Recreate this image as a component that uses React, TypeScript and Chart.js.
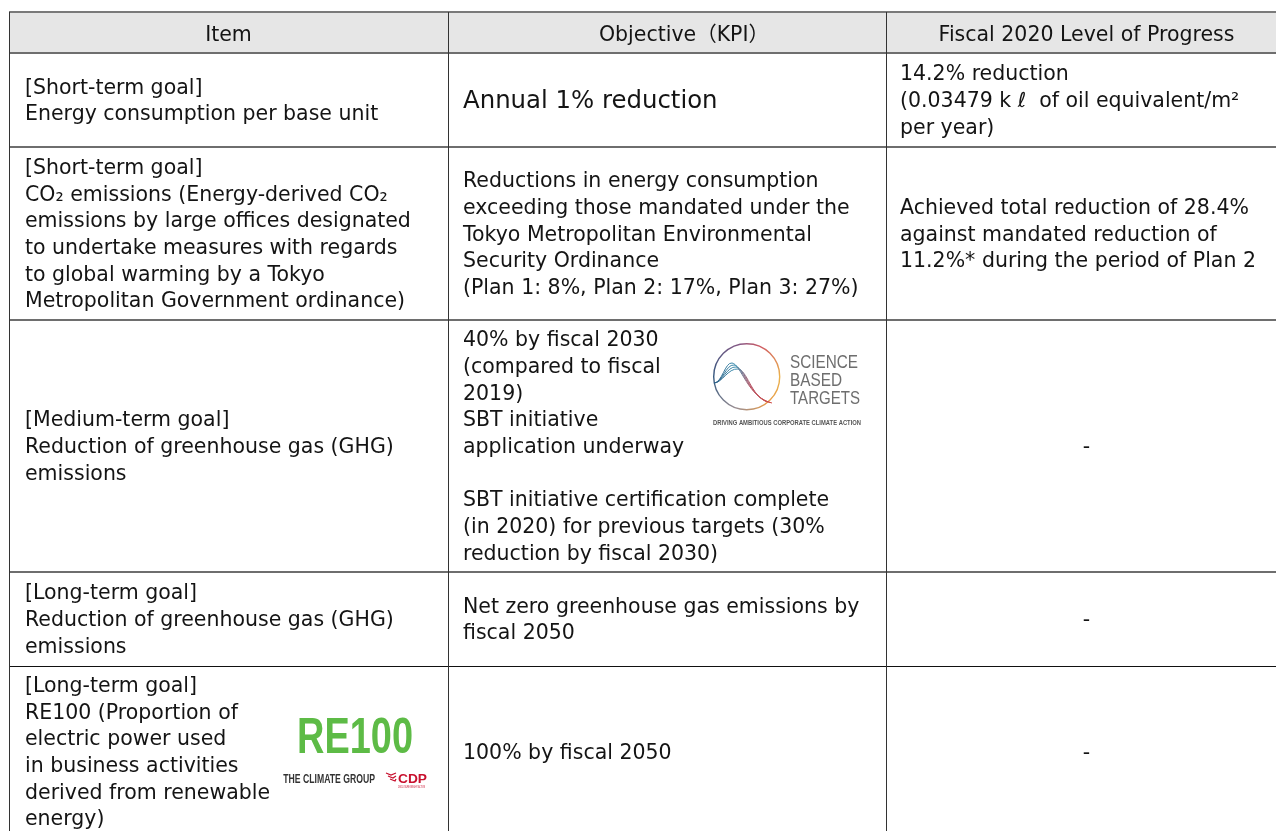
import React, { useEffect, useRef } from "react";
import { Chart, registerables } from "chart.js";

Chart.register(...registerables);

// ---------- DATA ----------
const headers: string[] = ["Item", "Objective（KPI）", "Fiscal 2020 Level of Progress"];

const items: string[][] = [
  ["[Short-term goal]", "Energy consumption per base unit"],
  [
    "[Short-term goal]",
    "CO₂ emissions (Energy-derived CO₂",
    "emissions by large offices designated",
    "to undertake measures with regards",
    "to global warming by a Tokyo",
    "Metropolitan Government ordinance)",
  ],
  ["[Medium-term goal]", "Reduction of greenhouse gas (GHG)", "emissions"],
  ["[Long-term goal]", "Reduction of greenhouse gas (GHG)", "emissions"],
  [
    "[Long-term goal]",
    "RE100 (Proportion of",
    "electric power used",
    "in business activities",
    "derived from renewable",
    "energy)",
  ],
];

const objectives: string[][] = [
  ["Annual 1% reduction"],
  [
    "Reductions in energy consumption",
    "exceeding those mandated under the",
    "Tokyo Metropolitan Environmental",
    "Security Ordinance",
    "(Plan 1: 8%, Plan 2: 17%, Plan 3: 27%)",
  ],
  [
    "40% by fiscal 2030",
    "(compared to fiscal",
    "2019)",
    "SBT initiative",
    "application underway",
    "",
    "SBT initiative certification complete",
    "(in 2020) for previous targets (30%",
    "reduction by fiscal 2030)",
  ],
  ["Net zero greenhouse gas emissions by", "fiscal 2050"],
  ["100% by fiscal 2050"],
];

const progress: string[][] = [
  ["14.2% reduction", "(0.03479 k ℓ  of oil equivalent/m²", "per year)"],
  [
    "Achieved total reduction of 28.4%",
    "against mandated reduction of",
    "11.2%* during the period of Plan 2",
  ],
  ["-"],
  ["-"],
  ["-"],
];

const sbtWords: string[] = ["SCIENCE", "BASED", "TARGETS"];
const sbtTagline = "DRIVING AMBITIOUS CORPORATE CLIMATE ACTION";
const re100Text = "RE100";
const climateGroupText = "THE CLIMATE GROUP";
const cdpText = "CDP";

// ---------- LAYOUT (in scale units == page pixels) ----------
const PAGE_W = 1276;
const PAGE_H = 831;
const COL_EDGES = [9, 448, 886, 1287];
const ROW_EDGES = [12, 53, 147, 320, 572, 666, 837];
const HEADER_CENTERS = [228.5, 684, 1086.5];
const TEXT_LEFT = [25, 463, 900];
const FONT = "'DejaVu Sans', 'Noto Sans CJK JP', sans-serif";
const FS = 20.5;
const LH = 26.7;
const BIG_FS = 24.4;
const TEXT_COLOR = "#141414";

function baselineOffset(fs: number, lh: number) {
  return (lh - fs * 1.164) / 2 + fs * 0.928;
}

const tablePlugin = {
  id: "tableDraw",
  afterDraw(chart: any) {
    const { ctx, scales } = chart;
    const X = (v: number) => scales.x.getPixelForValue(v);
    const Y = (v: number) => scales.y.getPixelForValue(v);

    ctx.save();
    // header background
    ctx.fillStyle = "#e6e6e6";
    ctx.fillRect(X(COL_EDGES[0]), Y(ROW_EDGES[0]), X(COL_EDGES[3]) - X(COL_EDGES[0]), Y(ROW_EDGES[1]) - Y(ROW_EDGES[0]));

    const drawBlock = (
      lines: string[],
      col: number,
      r0: number,
      r1: number,
      fs: number,
      lh: number,
      centered: boolean
    ) => {
      ctx.font = `${fs}px ${FONT}`;
      ctx.fillStyle = TEXT_COLOR;
      ctx.textBaseline = "alphabetic";
      const mid = (r0 + r1) / 2;
      const top = mid - (lines.length * lh) / 2;
      const off = baselineOffset(fs, lh);
      lines.forEach((ln, i) => {
        if (!ln) return;
        const yb = Y(top + i * lh + off);
        if (centered) {
          ctx.textAlign = "center";
          ctx.fillText(ln, X((COL_EDGES[col] + COL_EDGES[col + 1]) / 2), yb);
        } else {
          ctx.textAlign = "left";
          ctx.fillText(ln, X(TEXT_LEFT[col]), yb);
        }
      });
    };

    // header texts
    ctx.font = `${FS}px ${FONT}`;
    ctx.fillStyle = TEXT_COLOR;
    ctx.textAlign = "center";
    ctx.textBaseline = "alphabetic";
    const hOff = baselineOffset(FS, LH);
    headers.forEach((h, i) => {
      const mid = (ROW_EDGES[0] + ROW_EDGES[1]) / 2;
      ctx.fillText(h, X(HEADER_CENTERS[i]), Y(mid - LH / 2 + hOff + 1));
    });

    // body texts
    for (let r = 0; r < items.length; r++) {
      const r0 = ROW_EDGES[r + 1];
      const r1 = ROW_EDGES[r + 2];
      drawBlock(items[r], 0, r0, r1, FS, LH, false);
      if (r === 0) drawBlock(objectives[r], 1, r0, r1, BIG_FS, BIG_FS * 1.3, false);
      else drawBlock(objectives[r], 1, r0, r1, FS, LH, false);
      const centered = progress[r].length === 1 && progress[r][0] === "-";
      drawBlock(progress[r], 2, r0, r1, FS, LH, centered);
    }

    // grid lines
    const hLine = (y: number, color: string, w: number) => {
      ctx.strokeStyle = color;
      ctx.lineWidth = w;
      ctx.beginPath();
      const yy = w % 2 === 1 ? Math.round(Y(y)) + 0.5 : Math.round(Y(y));
      ctx.moveTo(X(COL_EDGES[0]), yy);
      ctx.lineTo(X(COL_EDGES[3]), yy);
      ctx.stroke();
    };
    const vLine = (x: number, color: string, w: number) => {
      ctx.strokeStyle = color;
      ctx.lineWidth = w;
      ctx.beginPath();
      const xx = Math.round(X(x)) + 0.5;
      ctx.moveTo(xx, Y(ROW_EDGES[0]));
      ctx.lineTo(xx, Y(ROW_EDGES[ROW_EDGES.length - 1]));
      ctx.stroke();
    };
    hLine(ROW_EDGES[0], "#7a7a7a", 2);
    hLine(ROW_EDGES[1], "#6e6e6e", 2);
    hLine(ROW_EDGES[2], "#6e6e6e", 2);
    hLine(ROW_EDGES[3], "#6e6e6e", 2);
    hLine(ROW_EDGES[4], "#6e6e6e", 2);
    hLine(ROW_EDGES[5], "#111111", 1);
    hLine(ROW_EDGES[6], "#333333", 1);
    vLine(COL_EDGES[0], "#333333", 1);
    vLine(COL_EDGES[1], "#333333", 1);
    vLine(COL_EDGES[2], "#333333", 1);
    vLine(COL_EDGES[3], "#333333", 1);

    // fitted text helper
    const fitText = (t: string, x0: number, x1: number, base: number, font: string, color: string) => {
      ctx.font = font;
      ctx.fillStyle = color;
      ctx.textAlign = "left";
      ctx.textBaseline = "alphabetic";
      const w = ctx.measureText(t).width;
      const target = X(x1) - X(x0);
      ctx.save();
      ctx.translate(X(x0), Y(base));
      ctx.scale(target / w, 1);
      ctx.fillText(t, 0, 0);
      ctx.restore();
    };

    // ---- SBT logo ----
    const cx = X(746.7), cy = Y(376.7), rr = 33;
    const cg = ctx.createConicGradient(Math.PI, cx, cy);
    cg.addColorStop(0, "#34587f");
    cg.addColorStop(0.22, "#8a5a86");
    cg.addColorStop(0.32, "#cf5a62");
    cg.addColorStop(0.5, "#ebb24c");
    cg.addColorStop(0.65, "#e69a48");
    cg.addColorStop(0.8, "#9a8e92");
    cg.addColorStop(1, "#34587f");
    ctx.strokeStyle = cg;
    ctx.lineWidth = 1.4;
    ctx.beginPath();
    ctx.arc(cx, cy, rr, 0, Math.PI * 2);
    ctx.stroke();

    const wg = ctx.createLinearGradient(X(714), 0, X(775), 0);
    wg.addColorStop(0, "#2f5f86");
    wg.addColorStop(0.35, "#3d8fb0");
    wg.addColorStop(0.6, "#b85a6a");
    wg.addColorStop(1, "#d1453b");
    ctx.strokeStyle = wg;
    ctx.lineWidth = 1;
    for (let k = 0; k < 4; k++) {
      ctx.beginPath();
      ctx.moveTo(X(714), Y(383));
      ctx.bezierCurveTo(X(722), Y(383), X(725 + k), Y(362 + k * 2), X(732 + k * 2), Y(363 + k * 2));
      ctx.bezierCurveTo(X(741 + k * 2), Y(364 + k * 2), X(748 + k), Y(398 - k), X(772 - k * 2), Y(403 - k * 0.5));
      ctx.stroke();
    }
    fitText(sbtWords[0], 790, 858, 368, `18px 'Liberation Sans', sans-serif`, "#6e6e6e");
    fitText(sbtWords[1], 790, 842, 386, `18px 'Liberation Sans', sans-serif`, "#6e6e6e");
    fitText(sbtWords[2], 790, 860, 403.5, `18px 'Liberation Sans', sans-serif`, "#6e6e6e");
    fitText(sbtTagline, 713, 861, 425, `bold 7px 'Liberation Sans', sans-serif`, "#555555");

    // ---- RE100 logo ----
    fitText(re100Text, 297, 413, 753.3, `bold 50px 'Liberation Sans', sans-serif`, "#5dbb46");
    fitText(climateGroupText, 283.3, 375, 783, `bold 13px 'Liberation Sans', sans-serif`, "#333333");
    // CDP mark
    ctx.strokeStyle = "#c8102e";
    ctx.lineWidth = 1.3;
    for (let k = 0; k < 3; k++) {
      ctx.beginPath();
      ctx.moveTo(X(386 + k * 2), Y(773 + k * 3));
      ctx.lineTo(X(391 + k * 2), Y(775 + k * 3));
      ctx.lineTo(X(396), Y(773 + k * 3));
      ctx.stroke();
    }
    fitText(cdpText, 398, 427, 783, `bold 13px 'Liberation Sans', sans-serif`, "#c8102e");
    fitText("DISCLOSURE INSIGHT ACTION", 398, 425, 787.5, `3px 'Liberation Sans', sans-serif`, "#c8102e");

    ctx.restore();
  },
};

export default function App() {
  const ref = useRef<HTMLCanvasElement | null>(null);
  useEffect(() => {
    if (!ref.current) return;
    const chart = new Chart(ref.current, {
      type: "scatter",
      data: { datasets: [] },
      options: {
        responsive: false,
        animation: false,
        devicePixelRatio: 1,
        events: [],
        layout: { padding: 0 },
        plugins: { legend: { display: false }, tooltip: { enabled: false } },
        scales: {
          x: { type: "linear", display: false, min: 0, max: PAGE_W },
          y: { type: "linear", display: false, min: 0, max: PAGE_H, reverse: true },
        },
      },
      plugins: [tablePlugin],
    } as any);
    return () => chart.destroy();
  }, []);
  return (
    <div style={{ position: "absolute", left: 0, top: 0, width: PAGE_W, height: PAGE_H, background: "#ffffff" }}>
      <canvas ref={ref} width={PAGE_W} height={PAGE_H} style={{ display: "block" }} />
    </div>
  );
}
